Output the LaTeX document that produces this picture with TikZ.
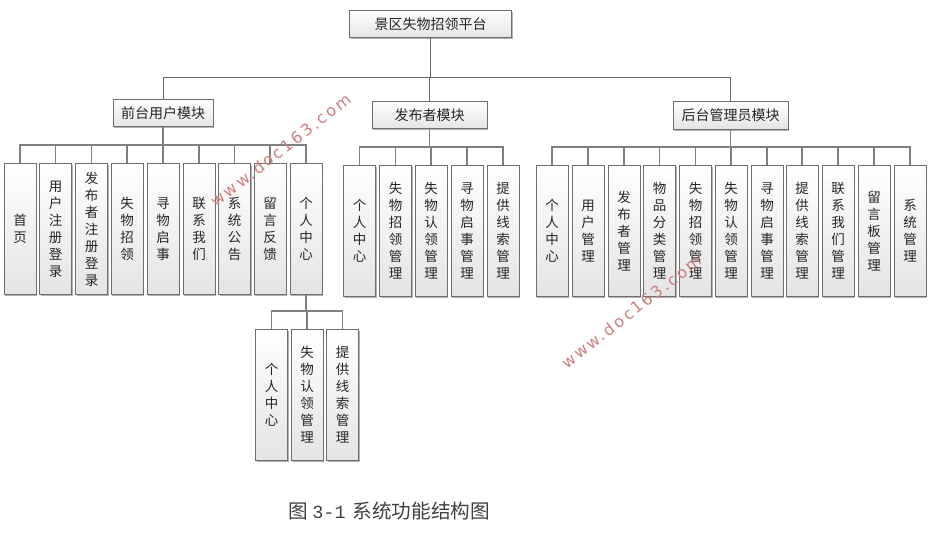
\documentclass[tikz,border=0pt]{standalone}
\usepackage{fontspec}
\usetikzlibrary{shadows}
\setmainfont{Noto Sans CJK SC}
\newfontfamily\capmono{Liberation Mono}
\newfontfamily\wmfont[LetterSpace=15]{DejaVu Sans}
\definecolor{edgegray}{HTML}{6E6E6E}
\definecolor{linegray}{HTML}{808080}
\definecolor{wmred}{HTML}{D07F7F}
\definecolor{boxbot}{HTML}{E4E4E4}
\tikzset{
  boxbase/.style={draw=edgegray,line width=0.9pt,top color=white,bottom color=boxbot,inner sep=0pt,align=center,
    drop shadow={shadow xshift=1.4pt,shadow yshift=-1.4pt,opacity=.3,fill=black},
    font=\fontsize{13.5}{17}\selectfont,text=black!85},
  widebox/.style={boxbase,minimum height=27.5pt,font=\fontsize{14}{17}\selectfont},
  tallbox/.style={boxbase,anchor=north,minimum width=32pt,minimum height=131pt},
  link/.style={draw=linegray,line width=1.4pt},
  toplink/.style={draw=black!60,line width=0.9pt},
  wmark/.style={text=wmred,font=\wmfont\fontsize{16}{16}\selectfont,rotate=38,inner sep=0pt},
}
\begin{document}
\begin{tikzpicture}[x=1pt,y=-1pt]
\useasboundingbox (0,0) rectangle (933,533);
\fill[white] (0,0) rectangle (933,533);
% bus levels
\coordinate (bustop) at (0,77);
\coordinate (busa) at (0,145);
\coordinate (busb) at (0,147);
\coordinate (busc) at (0,147);
\coordinate (busd) at (0,311);
% wide boxes
\node[widebox,minimum width=162pt] (root) at (430.5,24) {景区失物招领平台};
\node[widebox,minimum width=100pt] (front) at (163,113) {前台用户模块};
\node[widebox,minimum width=115pt] (pub) at (429.5,115) {发布者模块};
\node[widebox,minimum width=115pt] (admin) at (730.5,115.5) {后台管理员模块};
% front row
\foreach \n/\x/\t in {a1/20/{首\\页},a2/55.5/{用\\户\\注\\册\\登\\录},a3/91.5/{发\\布\\者\\注\\册\\登\\录},a4/127/{失\\物\\招\\领},a5/163/{寻\\物\\启\\事},a6/199/{联\\系\\我\\们},a7/234.5/{系\\统\\公\\告},a8/270/{留\\言\\反\\馈},a9/306/{个\\人\\中\\心}}
  \node[tallbox] (\n) at (\x,163) {\t};
% publisher row
\foreach \n/\x/\t in {b1/359.5/{个\\人\\中\\心},b2/395.5/{失\\物\\招\\领\\管\\理},b3/431/{失\\物\\认\\领\\管\\理},b4/467/{寻\\物\\启\\事\\管\\理},b5/503/{提\\供\\线\\索\\管\\理}}
  \node[tallbox] (\n) at (\x,165) {\t};
% admin row
\foreach \n/\x/\t in {c1/552/{个\\人\\中\\心},c2/588/{用\\户\\管\\理},c3/624/{发\\布\\者\\管\\理},c4/659.5/{物\\品\\分\\类\\管\\理},c5/695.5/{失\\物\\招\\领\\管\\理},c6/731/{失\\物\\认\\领\\管\\理},c7/767/{寻\\物\\启\\事\\管\\理},c8/802/{提\\供\\线\\索\\管\\理},c9/838/{联\\系\\我\\们\\管\\理},c10/874/{留\\言\\板\\管\\理},c11/910/{系\\统\\管\\理}}
  \node[tallbox] (\n) at (\x,165) {\t};
% sub row
\foreach \n/\x/\t in {d1/271.5/{个\\人\\中\\心},d2/307/{失\\物\\认\\领\\管\\理},d3/342.5/{提\\供\\线\\索\\管\\理}}
  \node[tallbox] (\n) at (\x,329) {\t};
% connectors
\foreach \c in {front,pub,admin}
  \draw[toplink] (root.south) -- (root.south |- bustop) -| (\c.north);
\foreach \c in {a1,a2,a3,a4,a5,a6,a7,a8,a9}
  \draw[link] (front.south) -- (front.south |- busa) -| (\c.north);
\foreach \c in {b1,b2,b3,b4,b5}
  \draw[link] (pub.south) -- (pub.south |- busb) -| (\c.north);
\foreach \c in {c1,c2,c3,c4,c5,c6,c7,c8,c9,c10,c11}
  \draw[link] (admin.south) -- (admin.south |- busc) -| (\c.north);
\foreach \c in {d1,d2,d3}
  \draw[link] (a9.south) -- (a9.south |- busd) -| (\c.north);
% caption
\node[anchor=west,inner sep=0pt,font=\fontsize{19.6}{22}\selectfont,text=black!75] (cap) at (288,511)
  {图\hspace{4.5pt}{\capmono\fontsize{18.5}{22}\selectfont 3-1}\hspace{7pt}系统功能结构图};
% watermarks
\node[wmark] (wm1) at (281,150) {www.doc163.com};
\node[wmark] (wm2) at (631.5,311.5) {www.doc163.com};
\end{tikzpicture}
\end{document}
